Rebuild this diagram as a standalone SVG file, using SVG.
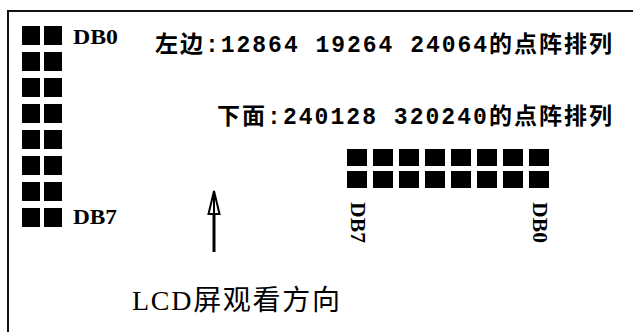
<svg xmlns="http://www.w3.org/2000/svg" width="633" height="332" viewBox="0 0 633 332">
<style>
.sq{fill:#000}
.lbl{font-family:"Liberation Serif","DejaVu Serif",serif;font-weight:bold;font-size:20px;fill:#000}
.cn{font-family:"Liberation Mono","Noto Sans CJK SC",monospace;font-weight:bold;font-size:23px;fill:#000}
.cap{font-family:"Liberation Serif","Noto Sans CJK SC",serif;font-size:28px;fill:#000}
.frame{fill:none;stroke:#111;stroke-width:2}
</style>
<defs>
<rect id="sv" class="sq" width="18" height="19"/>
<rect id="sh" class="sq" width="20" height="17"/>
</defs>
<rect width="633" height="332" fill="#fff"/>
<path class="frame" d="M8,332 V11 H633"/>
<g id="left-array">
<use href="#sv" x="22" y="26"/><use href="#sv" x="44" y="26"/>
<use href="#sv" x="22" y="52"/><use href="#sv" x="44" y="52"/>
<use href="#sv" x="22" y="78"/><use href="#sv" x="44" y="78"/>
<use href="#sv" x="22" y="104"/><use href="#sv" x="44" y="104"/>
<use href="#sv" x="22" y="130"/><use href="#sv" x="44" y="130"/>
<use href="#sv" x="22" y="156"/><use href="#sv" x="44" y="156"/>
<use href="#sv" x="22" y="182"/><use href="#sv" x="44" y="182"/>
<use href="#sv" x="22" y="208"/><use href="#sv" x="44" y="208"/>
<text class="lbl" x="73" y="44" textLength="45" lengthAdjust="spacingAndGlyphs">DB0</text>
<text class="lbl" x="73" y="224" textLength="44" lengthAdjust="spacingAndGlyphs">DB7</text>
</g>
<g id="title">
<text class="cn" x="155" y="52" textLength="457" lengthAdjust="spacing">左边:12864 19264 24064的点阵排列</text>
<text class="cn" x="217" y="124" textLength="395" lengthAdjust="spacing">下面:240128 320240的点阵排列</text>
</g>
<g id="bottom-array">
<use href="#sh" x="347" y="149"/><use href="#sh" x="373" y="149"/><use href="#sh" x="399" y="149"/><use href="#sh" x="425" y="149"/>
<use href="#sh" x="451" y="149"/><use href="#sh" x="477" y="149"/><use href="#sh" x="503" y="149"/><use href="#sh" x="529" y="149"/>
<use href="#sh" x="347" y="171"/><use href="#sh" x="373" y="171"/><use href="#sh" x="399" y="171"/><use href="#sh" x="425" y="171"/>
<use href="#sh" x="451" y="171"/><use href="#sh" x="477" y="171"/><use href="#sh" x="503" y="171"/><use href="#sh" x="529" y="171"/>
<text class="lbl" x="351" y="202" transform="rotate(90 351 202)" textLength="41" lengthAdjust="spacingAndGlyphs">DB7</text>
<text class="lbl" x="533" y="202" transform="rotate(90 533 202)" textLength="41" lengthAdjust="spacingAndGlyphs">DB0</text>
</g>
<g id="connectors">
<line x1="214" y1="196" x2="214" y2="252" stroke="#000" stroke-width="3"/>
<polygon points="214,191 208.5,214 219.5,214" fill="#fff" stroke="#000" stroke-width="2"/>
<line x1="214" y1="193" x2="214" y2="214" stroke="#000" stroke-width="2"/>
</g>
<g id="caption">
<text class="cap" x="132" y="310" textLength="208" lengthAdjust="spacing">LCD屏观看方向</text>
</g>
</svg>
